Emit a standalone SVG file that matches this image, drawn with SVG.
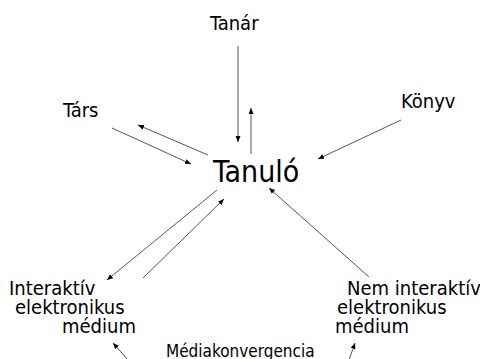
<svg xmlns="http://www.w3.org/2000/svg" width="480" height="359" viewBox="0 0 480 359">
<defs>
<marker id="ah" markerUnits="userSpaceOnUse" markerWidth="7" markerHeight="6" refX="6" refY="2.5" orient="auto">
<path d="M0,0 L6,2.5 L0,5 z" fill="#000"/>
</marker>
<style>
text{font-family:"DejaVu Sans Condensed","DejaVu Sans",sans-serif;font-stretch:condensed;fill:#000}
.n{font-size:20px}
.big{font-size:30px}
.sm{font-size:17px}
.c line{stroke:#555;stroke-width:1;marker-end:url(#ah)}
</style>
</defs>
<rect width="480" height="359" fill="#fff"/>
<g class="c" id="connectors">
<line x1="238" y1="46" x2="238" y2="142"/>
<line x1="251" y1="154" x2="251" y2="108"/>
<line x1="112" y1="128" x2="191" y2="164"/>
<line x1="208" y1="155" x2="138" y2="125"/>
<line x1="401" y1="120" x2="318" y2="159"/>
<line x1="217" y1="190" x2="107" y2="280"/>
<line x1="143" y1="278" x2="224" y2="199"/>
<line x1="369" y1="277" x2="269" y2="188"/>
<line x1="128" y1="360" x2="113" y2="343"/>
<line x1="349" y1="360" x2="355" y2="343"/>
</g>
<g id="tanar"><text class="n" x="210" y="30">Tanár</text></g>
<g id="tars"><text class="n" x="63" y="117">Társ</text></g>
<g id="konyv"><text class="n" x="401" y="108">Könyv</text></g>
<g id="tanulo"><text class="big" x="213" y="182">Tanuló</text></g>
<g id="interaktiv">
<text class="n" x="9" y="295">Interaktív</text>
<text class="n" x="15" y="314">elektronikus</text>
<text class="n" x="62" y="333">médium</text>
</g>
<g id="nem-interaktiv">
<text class="n" x="347" y="295">Nem interaktív</text>
<text class="n" x="337" y="314">elektronikus</text>
<text class="n" x="335" y="333">médium</text>
</g>
<g id="mediakonvergencia"><text class="sm" x="166" y="357">Médiakonvergencia</text></g>
</svg>
